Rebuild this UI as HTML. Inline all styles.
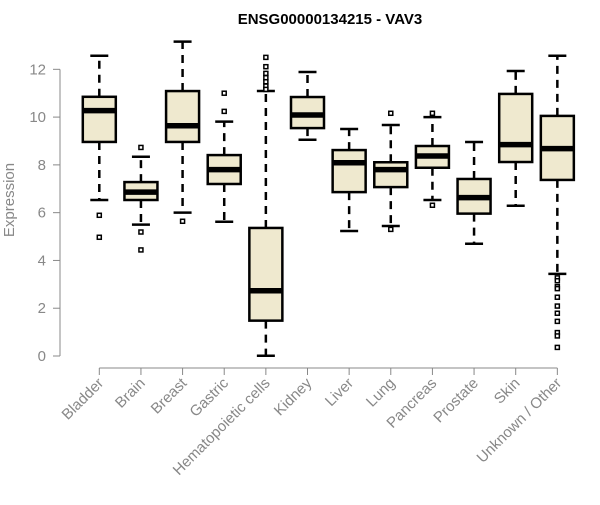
<!DOCTYPE html>
<html><head><meta charset="utf-8"><style>
body{margin:0;background:#fff;}
svg{font-family:"Liberation Sans",sans-serif;}
</style></head><body>
<svg id="chart" width="600" height="500" xmlns="http://www.w3.org/2000/svg">
<text x="330" y="24" text-anchor="middle" font-weight="bold" font-size="15">ENSG00000134215 - VAV3</text>
<text transform="translate(14,200) rotate(-90)" text-anchor="middle" font-size="15" fill="#888">Expression</text>
<g id="axes"></g>
<g id="boxes"></g>
</svg>
<script>
const categories=["Bladder","Brain","Breast","Gastric","Hematopoietic cells","Kidney","Liver","Lung","Pancreas","Prostate","Skin","Unknown / Other"];
const lowWhisker=[6.53,5.50,6.0,5.62,0.01,9.05,5.23,5.44,6.53,4.70,6.29,3.44];
const q1=[8.96,6.53,8.96,7.20,1.48,9.54,6.86,7.07,7.88,5.96,8.12,7.37];
const medians=[10.27,6.86,9.64,7.80,2.73,10.09,8.09,7.80,8.37,6.63,8.85,8.68];
const q3=[10.85,7.28,11.09,8.41,5.36,10.84,8.62,8.11,8.79,7.41,10.97,10.05];
const highWhisker=[12.57,8.34,13.16,9.81,11.09,11.89,9.50,9.67,10.0,8.96,11.93,12.57];
const outliers=[[5.89,4.97],[8.73,5.19,4.44],[5.64],[11.0,10.24],[12.5,12.11,11.83,11.65,11.48,11.3,11.16],[],[],[10.16,5.30],[10.16,6.31],[],[],[3.27,3.15,2.9,2.82,2.46,2.09,1.79,1.45,0.98,0.84,0.36]];
const yTicks=[0,2,4,6,8,10,12];

const NS="http://www.w3.org/2000/svg";
const y=v=>356-23.89*v;
const x=i=>99.3+41.64*i;
function mk(tag,attrs,parent){const e=document.createElementNS(NS,tag);for(const k in attrs)e.setAttribute(k,attrs[k]);parent.appendChild(e);return e;}
const ax=document.getElementById('axes'),bx=document.getElementById('boxes');
let l=mk('line',{x1:60,x2:60,y1:y(0),y2:y(12),stroke:'#888'},ax);


yTicks.forEach(t=>{
  const tk=mk('line',{x1:53,x2:60,y1:y(t),y2:y(t),stroke:'#888'},ax);
  
  
  const tx=mk('text',{x:46,y:y(t)+5,'text-anchor':'end','font-size':15,fill:'#888'},ax);
  tx.textContent=t;
  
  
});
l=mk('line',{x1:x(0),x2:x(categories.length-1),y1:368,y2:368,stroke:'#888'},ax);


categories.forEach((c,i)=>{
  const cx=x(i);
  const tk=mk('line',{x1:cx,x2:cx,y1:368,y2:375,stroke:'#888'},ax);
  
  
  const tx=mk('text',{x:cx+5,y:384,'text-anchor':'end','font-size':15,fill:'#888',transform:`rotate(-45 ${cx+5} 384)`},ax);
  tx.textContent=c;
  
  
  const g=mk('g',{},bx);
  
  
  mk('line',{x1:cx,x2:cx,y1:y(q3[i]),y2:y(highWhisker[i]),stroke:'#000','stroke-width':2.5,'stroke-dasharray':'8,6'},g);
  mk('line',{x1:cx,x2:cx,y1:y(q1[i]),y2:y(lowWhisker[i]),stroke:'#000','stroke-width':2.5,'stroke-dasharray':'8,6'},g);
  mk('line',{x1:cx-9,x2:cx+9,y1:y(highWhisker[i]),y2:y(highWhisker[i]),stroke:'#000','stroke-width':2.5},g);
  mk('line',{x1:cx-9,x2:cx+9,y1:y(lowWhisker[i]),y2:y(lowWhisker[i]),stroke:'#000','stroke-width':2.5},g);
  mk('rect',{x:cx-16.5,y:y(q3[i]),width:33,height:y(q1[i])-y(q3[i]),fill:'#efe9cf',stroke:'#000','stroke-width':2.5},g);
  mk('line',{x1:cx-16.5,x2:cx+16.5,y1:y(medians[i]),y2:y(medians[i]),stroke:'#000','stroke-width':5.5},g);
  outliers[i].forEach(o=>{
    const r=mk('rect',{x:cx-2,y:y(o)-2,width:4,height:4,fill:'#fff',stroke:'#000','stroke-width':1.5},g);
    
    
  });
});
</script>
</body></html>
